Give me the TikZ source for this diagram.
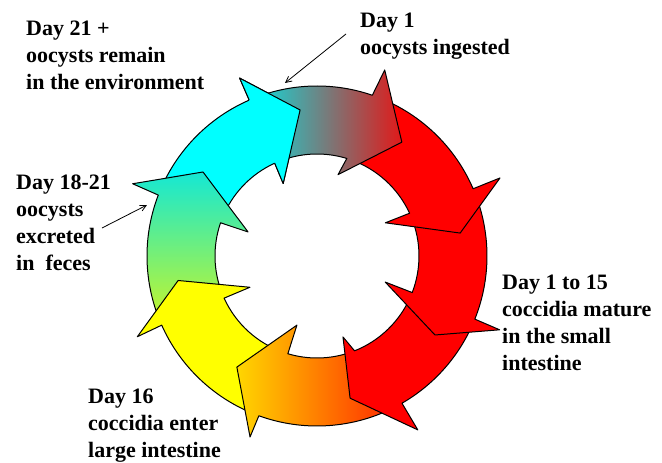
\documentclass[tikz,border=0pt]{standalone}
\usepackage{fontspec}
\setmainfont{Liberation Serif}
\usetikzlibrary{arrows.meta}
\definecolor{ccyan}{RGB}{0,255,255}
\definecolor{cred}{RGB}{255,0,0}
\definecolor{cyellow}{RGB}{255,255,0}
\definecolor{aleft}{RGB}{20,215,215}
\definecolor{aright}{RGB}{225,25,25}
\definecolor{eleft}{RGB}{255,215,0}
\definecolor{eright}{RGB}{255,40,0}
\definecolor{gtop}{RGB}{20,232,212}
\definecolor{gbot}{RGB}{195,245,45}
\begin{document}
\begin{tikzpicture}[x=1pt,y=1pt,
  ring/.style={draw=black, line width=1pt, line join=round},
  lbl/.style={anchor=north west, inner sep=0pt, align=left, font=\fontsize{22}{27}\selectfont\bfseries},
  ptr/.style={draw=black, line width=0.8pt, -{Straight Barb[length=6pt,width=6pt]}}]
\fill[white] (-317,-207) rectangle (345,256);
\useasboundingbox (-317,-207) rectangle (345,256);
% H (cyan)
\path[ring, fill=ccyan] (156.5:170pt) arc[start angle=156.5, end angle=113.5, radius=170pt] -- (113.5:194pt) -- (96.6:147pt) -- (115:80pt) -- (114.5:102pt) arc[start angle=114.5, end angle=158.5, radius=102pt] -- cycle;
% G (green gradient)
\path[ring, top color=gtop, bottom color=gbot] (201.5:170pt) arc[start angle=201.5,end angle=159,radius=170pt] -- (158.6:198pt) -- (143.6:141.6pt) -- (160.8:73pt) -- (161:102pt) arc[start angle=161,end angle=201.9,radius=102pt] -- cycle;
% F (yellow)
\path[ring, fill=cyellow] (-112.5:170pt) arc[start angle=-112.5,end angle=-156,radius=170pt] -- (-155.8:197pt) -- (-170:141pt) -- (-155:74pt) -- (-155.6:102pt) arc[start angle=-155.6,end angle=-109.1,radius=102pt] -- cycle;
% E (orange gradient)
\path[ring, left color=eleft, right color=eright] (-62.5:170pt) arc[start angle=-62.5,end angle=-110,radius=170pt] -- (-110.3:193pt) -- (-125.8:137pt) -- (-106.2:72pt) -- (-106.6:102pt) arc[start angle=-106.6,end angle=-71,radius=102pt] -- cycle;
% D (red)
\path[ring, fill=cred] (-24.3:170pt) arc[start angle=-24.3,end angle=-60,radius=170pt] -- (-59.9:201pt) -- (-76.9:146pt) -- (-72.2:85pt) -- (-68.4:102pt) arc[start angle=-68.4,end angle=-23.5,radius=102pt] -- cycle;
% C (red)
\path[ring, fill=cred] (20.8:170pt) arc[start angle=20.8,end angle=-21.8,radius=170pt] -- (-22:197pt) -- (-33.8:142pt) -- (-20.9:73pt) -- (-21:102pt) arc[start angle=-21,end angle=22.3,radius=102pt] -- cycle;
% B (red)
\path[ring, fill=cred] (68.5:170pt) arc[start angle=68.5,end angle=23.3,radius=170pt] -- (23.1:199pt) -- (9.1:145pt) -- (25.9:76pt) -- (24.8:102pt) arc[start angle=24.8,end angle=70.5,radius=102pt] -- cycle;
% A (cyan to red gradient)
\path[ring, left color=aleft, right color=aright] (111:170pt) arc[start angle=111,end angle=71,radius=170pt] -- (70:198pt) -- (53.3:142pt) -- (75.5:84pt) -- (73:102pt) arc[start angle=73,end angle=112,radius=102pt] -- cycle;
% H head over A's tail
\fill[ccyan] (113.5:170pt) -- (113.5:194pt) -- (96.6:147pt) -- (115:80pt) -- (114.5:102pt) -- cycle;
\draw[ring] (113.5:170pt) -- (113.5:194pt) -- (96.6:147pt) -- (115:80pt) -- (114.5:102pt);
% labels
\node[lbl] (t1) at (-291,235) {Day 21 +\\oocysts remain\\in the environment};
\node[lbl] (t2) at (43,243) {Day 1\\oocysts ingested};
\node[lbl] (t3) at (-301,81) {Day 18-21\\oocysts\\excreted\\in \ feces};
\node[lbl] (t4) at (185,-19) {Day 1 to 15\\coccidia mature\\in the small\\intestine};
\node[lbl] (t5) at (-229,-133) {Day 16\\coccidia enter\\large intestine};
% pointers
\coordinate (p1s) at (29,222);
\coordinate (p1e) at (-32,173);
\coordinate (p2s) at (-215,28);
\coordinate (p2e) at (-170,51);
\draw[ptr] (p1s) -- (p1e);
\draw[ptr] (p2s) -- (p2e);
\end{tikzpicture}
\end{document}
